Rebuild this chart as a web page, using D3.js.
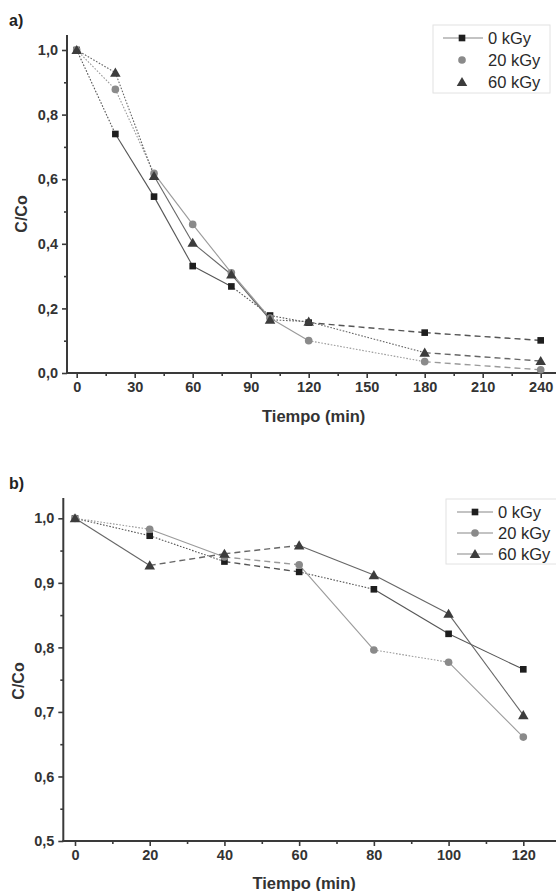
<!DOCTYPE html>
<html><head><meta charset="utf-8">
<script src="https://cdn.jsdelivr.net/npm/d3@7"></script>
<style>
body{margin:0;background:#fff;}
svg{display:block;font-family:"Liberation Sans",Arial,sans-serif;}
</style></head>
<body><svg id="c" width="556" height="891"></svg>
<script>
// ---------- data ----------
const seriesNames = ["0 kGy", "20 kGy", "60 kGy"];

const timeA = [0, 20, 40, 60, 80, 100, 120, 180, 240];
const a_0kGy  = [1.00, 0.74, 0.546, 0.331, 0.268, 0.178, 0.156, 0.125, 0.101];
const a_20kGy = [1.00, 0.878, 0.618, 0.46, 0.31, 0.17, 0.10, 0.035, 0.01];
const a_60kGy = [1.00, 0.93, 0.61, 0.403, 0.305, 0.165, 0.159, 0.063, 0.037];
const xTicksA = [0, 30, 60, 90, 120, 150, 180, 210, 240];
const yTicksA = [0.0, 0.2, 0.4, 0.6, 0.8, 1.0];

const timeB = [0, 20, 40, 60, 80, 100, 120];
const b_0kGy  = [1.00, 0.973, 0.933, 0.917, 0.890, 0.821, 0.766];
const b_20kGy = [1.00, 0.983, 0.940, 0.928, 0.796, 0.777, 0.661];
const b_60kGy = [1.00, 0.927, 0.945, 0.958, 0.912, 0.852, 0.695];
const xTicksB = [0, 20, 40, 60, 80, 100, 120];
const yTicksB = [0.5, 0.6, 0.7, 0.8, 0.9, 1.0];

// ---------- styles (segment dash patterns, separate from data) ----------
const dashMap = {solid: null, dot: "1.6,1.6", dash: "6,4"};
const segA = [
  ["dot","solid","solid","solid","dot","dot","dash","dash"],
  ["dot","dot","solid","solid","solid","solid","dot","dash"],
  ["dot","dot","solid","solid","solid","dot","dot","dash"]
];
const segB = [
  ["dot","dot","dash","dot","solid","solid"],
  ["dot","solid","dash","solid","dot","solid"],
  ["solid","dash","dash","solid","solid","solid"]
];
const markFill = ["#1e1e1e", "#8a8a8a", "#3c3c3c"];
const lineCol = ["#555", "#9a9a9a", "#666"];
const symbols = [d3.symbolSquare, d3.symbolCircle, d3.symbolTriangle];
const symSize = [44, 46, 48];

const svg = d3.select("#c");
const fmt = d => d3.format(".1f")(d).replace(".", ",");
const axCol = "#3a3a3a";

function panel(cfg) {
  const g = svg.append("g");
  const x = d3.scaleLinear().domain(cfg.xDom).range(cfg.xRange);
  const y = d3.scaleLinear().domain(cfg.yDom).range(cfg.yRange);
  const ax = cfg.axX, ay = cfg.yRange[0];
  // minor ticks
  const xMinor = g.append("g").attr("transform", `translate(0,${ay})`)
    .call(d3.axisBottom(x).tickValues(cfg.xMinor).tickSize(3).tickFormat(""));
  const yMinor = g.append("g").attr("transform", `translate(${ax},0)`)
    .call(d3.axisLeft(y).tickValues(cfg.yMinor).tickSize(3).tickFormat(""));
  // major axes
  const xa = g.append("g").attr("transform", `translate(0,${ay})`)
    .call(d3.axisBottom(x).tickValues(cfg.xTicks).tickSize(5).tickSizeOuter(0).tickPadding(4).tickFormat(d3.format("d")));
  const ya = g.append("g").attr("transform", `translate(${ax},0)`)
    .call(d3.axisLeft(y).tickValues(cfg.yTicks).tickSize(5).tickSizeOuter(0).tickPadding(4).tickFormat(fmt));
  [xa, ya, xMinor, yMinor].forEach(a => {
    a.select(".domain").remove();
    a.selectAll("line").attr("stroke", axCol).attr("stroke-width", 1.6);
    a.selectAll("text").attr("fill", "#333").attr("font-size", 14.5).attr("font-weight", "bold")
      .attr("font-family", "'Liberation Sans',Arial,sans-serif");
  });
  // axis lines
  g.append("line").attr("x1", ax).attr("x2", ax).attr("y1", cfg.axTop).attr("y2", ay + 1)
    .attr("stroke", axCol).attr("stroke-width", 2);
  g.append("line").attr("x1", ax - 1).attr("x2", 556).attr("y1", ay).attr("y2", ay)
    .attr("stroke", axCol).attr("stroke-width", 2);
  // axis titles
  g.append("text").attr("x", (x(cfg.xTicks[0]) + x(cfg.xTicks[cfg.xTicks.length-1]))/2 + 5).attr("y", cfg.xTitleY)
    .attr("text-anchor", "middle").attr("font-size", 16.5).attr("font-weight", "bold").attr("fill", "#333")
    .text("Tiempo (min)");
  g.append("text").attr("transform", `translate(${cfg.yTitleX},${cfg.yTitleC}) rotate(-90)`)
    .attr("text-anchor", "middle").attr("font-size", 16).attr("font-weight", "bold").attr("fill", "#333")
    .text("C/Co");
  g.append("text").attr("x", 9).attr("y", cfg.labelY).attr("font-size", 16).attr("font-weight", "bold")
    .attr("fill", "#222").text(cfg.label);

  // lines
  cfg.series.forEach((vals, si) => {
    for (let i = 0; i < vals.length - 1; i++) {
      const st = cfg.seg[si][i];
      g.append("line")
        .attr("x1", x(cfg.time[i])).attr("y1", y(vals[i]))
        .attr("x2", x(cfg.time[i+1])).attr("y2", y(vals[i+1]))
        .attr("stroke", lineCol[si]).attr("stroke-width", st === "dash" ? 1.4 : 1.1)
        .attr("stroke-dasharray", dashMap[st]);
    }
  });
  // markers
  cfg.series.forEach((vals, si) => {
    g.selectAll(null).data(vals).enter().append("path")
      .attr("d", d3.symbol().type(symbols[si]).size(symSize[si]))
      .attr("transform", (d, i) => `translate(${x(cfg.time[i])},${y(d) + (si === 2 ? 1 : 0)})`)
      .attr("fill", markFill[si]);
  });
  // legend
  const L = cfg.legend;
  g.append("rect").attr("x", L.x).attr("y", L.y).attr("width", L.w).attr("height", L.h)
    .attr("fill", "#fff").attr("stroke", "#e2e2e2").attr("stroke-width", 1);
  seriesNames.forEach((name, si) => {
    const cy = L.y + L.first + si * L.step;
    if (L.lines[si]) {
      g.append("line").attr("x1", L.lx1).attr("x2", L.lx2).attr("y1", cy).attr("y2", cy)
        .attr("stroke", "#888").attr("stroke-width", 1.2);
    }
    g.append("path").attr("d", d3.symbol().type(symbols[si]).size(symSize[si]))
      .attr("transform", `translate(${L.sx},${cy + (si === 2 ? 1 : 0)})`).attr("fill", markFill[si]);
    g.append("text").attr("x", L.tx).attr("y", cy).attr("dy", "0.35em")
      .attr("font-size", 16.5).attr("fill", "#2a2a2a").text(name);
  });
}

panel({
  label: "a)", labelY: 26,
  time: timeA, series: [a_0kGy, a_20kGy, a_60kGy], seg: segA,
  xDom: [0, 240], xRange: [76.7, 540.7],
  yDom: [0, 1], yRange: [373, 50],
  axX: 67, axTop: 35,
  xTicks: xTicksA, yTicks: yTicksA,
  xMinor: [15, 45, 75, 105, 135, 165, 195, 225],
  yMinor: [0.1, 0.3, 0.5, 0.7, 0.9],
  xTitleY: 422, yTitleX: 27, yTitleC: 214,
  legend: {x: 433, y: 25, w: 117, h: 68, first: 13, step: 22, lx1: 443, lx2: 483, sx: 462, tx: 488, lines: [true, false, false]}
});
panel({
  label: "b)", labelY: 489,
  time: timeB, series: [b_0kGy, b_20kGy, b_60kGy], seg: segB,
  xDom: [0, 120], xRange: [75, 523.3],
  yDom: [0.5, 1], yRange: [841, 518.3],
  axX: 63.3, axTop: 498,
  xTicks: xTicksB, yTicks: yTicksB,
  xMinor: [10, 30, 50, 70, 90, 110],
  yMinor: [0.55, 0.65, 0.75, 0.85, 0.95],
  xTitleY: 889, yTitleX: 24, yTitleC: 681,
  legend: {x: 446, y: 499, w: 112, h: 65, first: 13, step: 21, lx1: 457, lx2: 493, sx: 475, tx: 498, lines: [true, true, true]}
});
</script></body></html>
